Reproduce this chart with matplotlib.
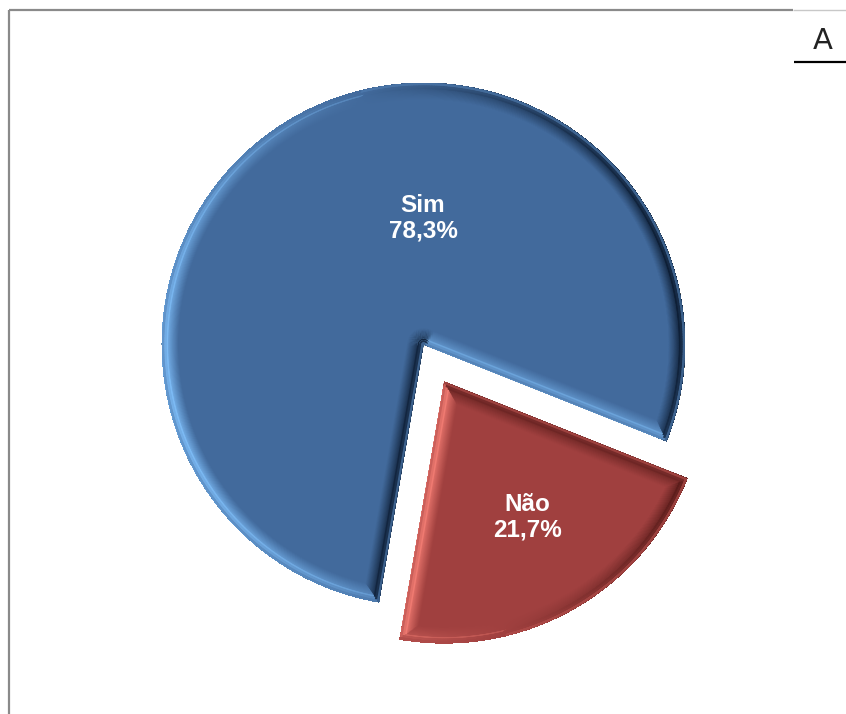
import matplotlib
matplotlib.use("Agg")
import matplotlib.pyplot as plt
import numpy as np
from matplotlib.collections import LineCollection
from matplotlib.colors import to_rgb

# survey answers (percent)
labels = ["Sim", "Não"]
values = [78.3, 21.7]

faces = ["#426a9c", "#a0403f"]
lights = ["#7cbaf4", "#f47e74"]
darks = ["#0e1f36", "#4a1412"]

W, H = 846, 714
R = 261.5
CENTER = (423.5, H - 344.5)
explode = [0, 0.163 * R]

fig = plt.figure(figsize=(W / 100, H / 100), dpi=100)
ax = fig.add_axes([0, 0, 1, 1])

wedges, _ = ax.pie(values, colors=faces, explode=explode, startangle=-21.7,
                   counterclock=True, radius=R, center=CENTER,
                   wedgeprops=dict(linewidth=0))

LIGHT = np.array([-1.0, -0.25])
LIGHT /= np.linalg.norm(LIGHT)


def mix(a, b, t):
    a = np.asarray(to_rgb(a))
    b = np.asarray(to_rgb(b))
    return a + (b - a) * np.clip(t, 0, 1)[:, None]


def stroke(segs, cols, half_px, clip):
    lc = LineCollection(segs, colors=np.clip(cols, 0, 1),
                        linewidths=2 * half_px * 0.72, capstyle="round")
    lc.set_clip_path(clip)
    ax.add_collection(lc)


def bevel(wedge, face, light, dark, depth=17.0):
    cx, cy = wedge.center
    r = wedge.r
    t = np.radians(np.linspace(wedge.theta1, wedge.theta2, 500))
    xs = np.concatenate([[cx], cx + r * np.cos(t), [cx]])
    ys = np.concatenate([[cy], cy + r * np.sin(t), [cy]])
    pts = np.column_stack([xs, ys])
    segs = np.stack([pts[:-1], pts[1:]], axis=1)
    d = segs[:, 1] - segs[:, 0]
    n = np.column_stack([d[:, 1], -d[:, 0]])
    n /= np.linalg.norm(n, axis=1)[:, None]
    s = n @ LIGHT

    fc = np.asarray(to_rgb(face))
    edge = np.where((s >= 0)[:, None], mix(face, light, s), mix(face, dark, -s))

    # gradient band, widest and faintest first
    for dpx in np.linspace(depth, 4.0, 16):
        f = (1 - (dpx - 4.0) / (depth - 4.0)) ** 1.1
        stroke(segs, fc + (edge - fc) * f, dpx, wedge)

    # bright ridge line inside the band
    ridge = edge * 0.7 + np.asarray(to_rgb(light)) * 0.3
    stroke(segs, np.where((s >= 0)[:, None], ridge, edge), 6.0, wedge)
    stroke(segs, edge * 0.85 + fc * 0.15, 4.5, wedge)

    # thin outer rim, softer than the band
    rim = np.where((s >= 0)[:, None], edge * 0.55 + fc * 0.45,
                   fc * 0.55 + np.asarray(to_rgb(light)) * 0.15 + edge * 0.3)
    stroke(segs, rim, 2.2, wedge)


for w, fc, lt, dk in zip(wedges, faces, lights, darks):
    bevel(w, fc, lt, dk)

# value labels
label_pos = [(423, H - 218.5), (527, H - 517.5)]
for lab, v, (x, y) in zip(labels, values, label_pos):
    txt = f"{lab}\n{v:.1f}%".replace(".", ",")
    ax.text(x, y, txt, ha="center", va="center", color="white",
            fontsize=17.5, fontweight="bold", family="Liberation Sans",
            linespacing=1.12, zorder=10)

# frame lines and corner mark
ax.plot([8.5, 8.5], [0, H - 9.5], color="#8a8a8a", lw=1.6, solid_capstyle="butt")
ax.plot([8.5, 793], [H - 9.5, H - 9.5], color="#8a8a8a", lw=1.6, solid_capstyle="butt")
ax.plot([793, W], [H - 9.5, H - 9.5], color="#c8c8c8", lw=1.0, solid_capstyle="butt")
ax.plot([794, W], [H - 62, H - 62], color="black", lw=1.6, solid_capstyle="butt")
ax.text(822.5, H - 41, "A", ha="center", va="center", fontsize=21,
        family="DejaVu Sans", color="#222222")

ax.set_xlim(0, W)
ax.set_ylim(0, H)
ax.set_aspect("equal")
ax.axis("off")

fig.savefig("out.png", dpi=100, facecolor="white")
